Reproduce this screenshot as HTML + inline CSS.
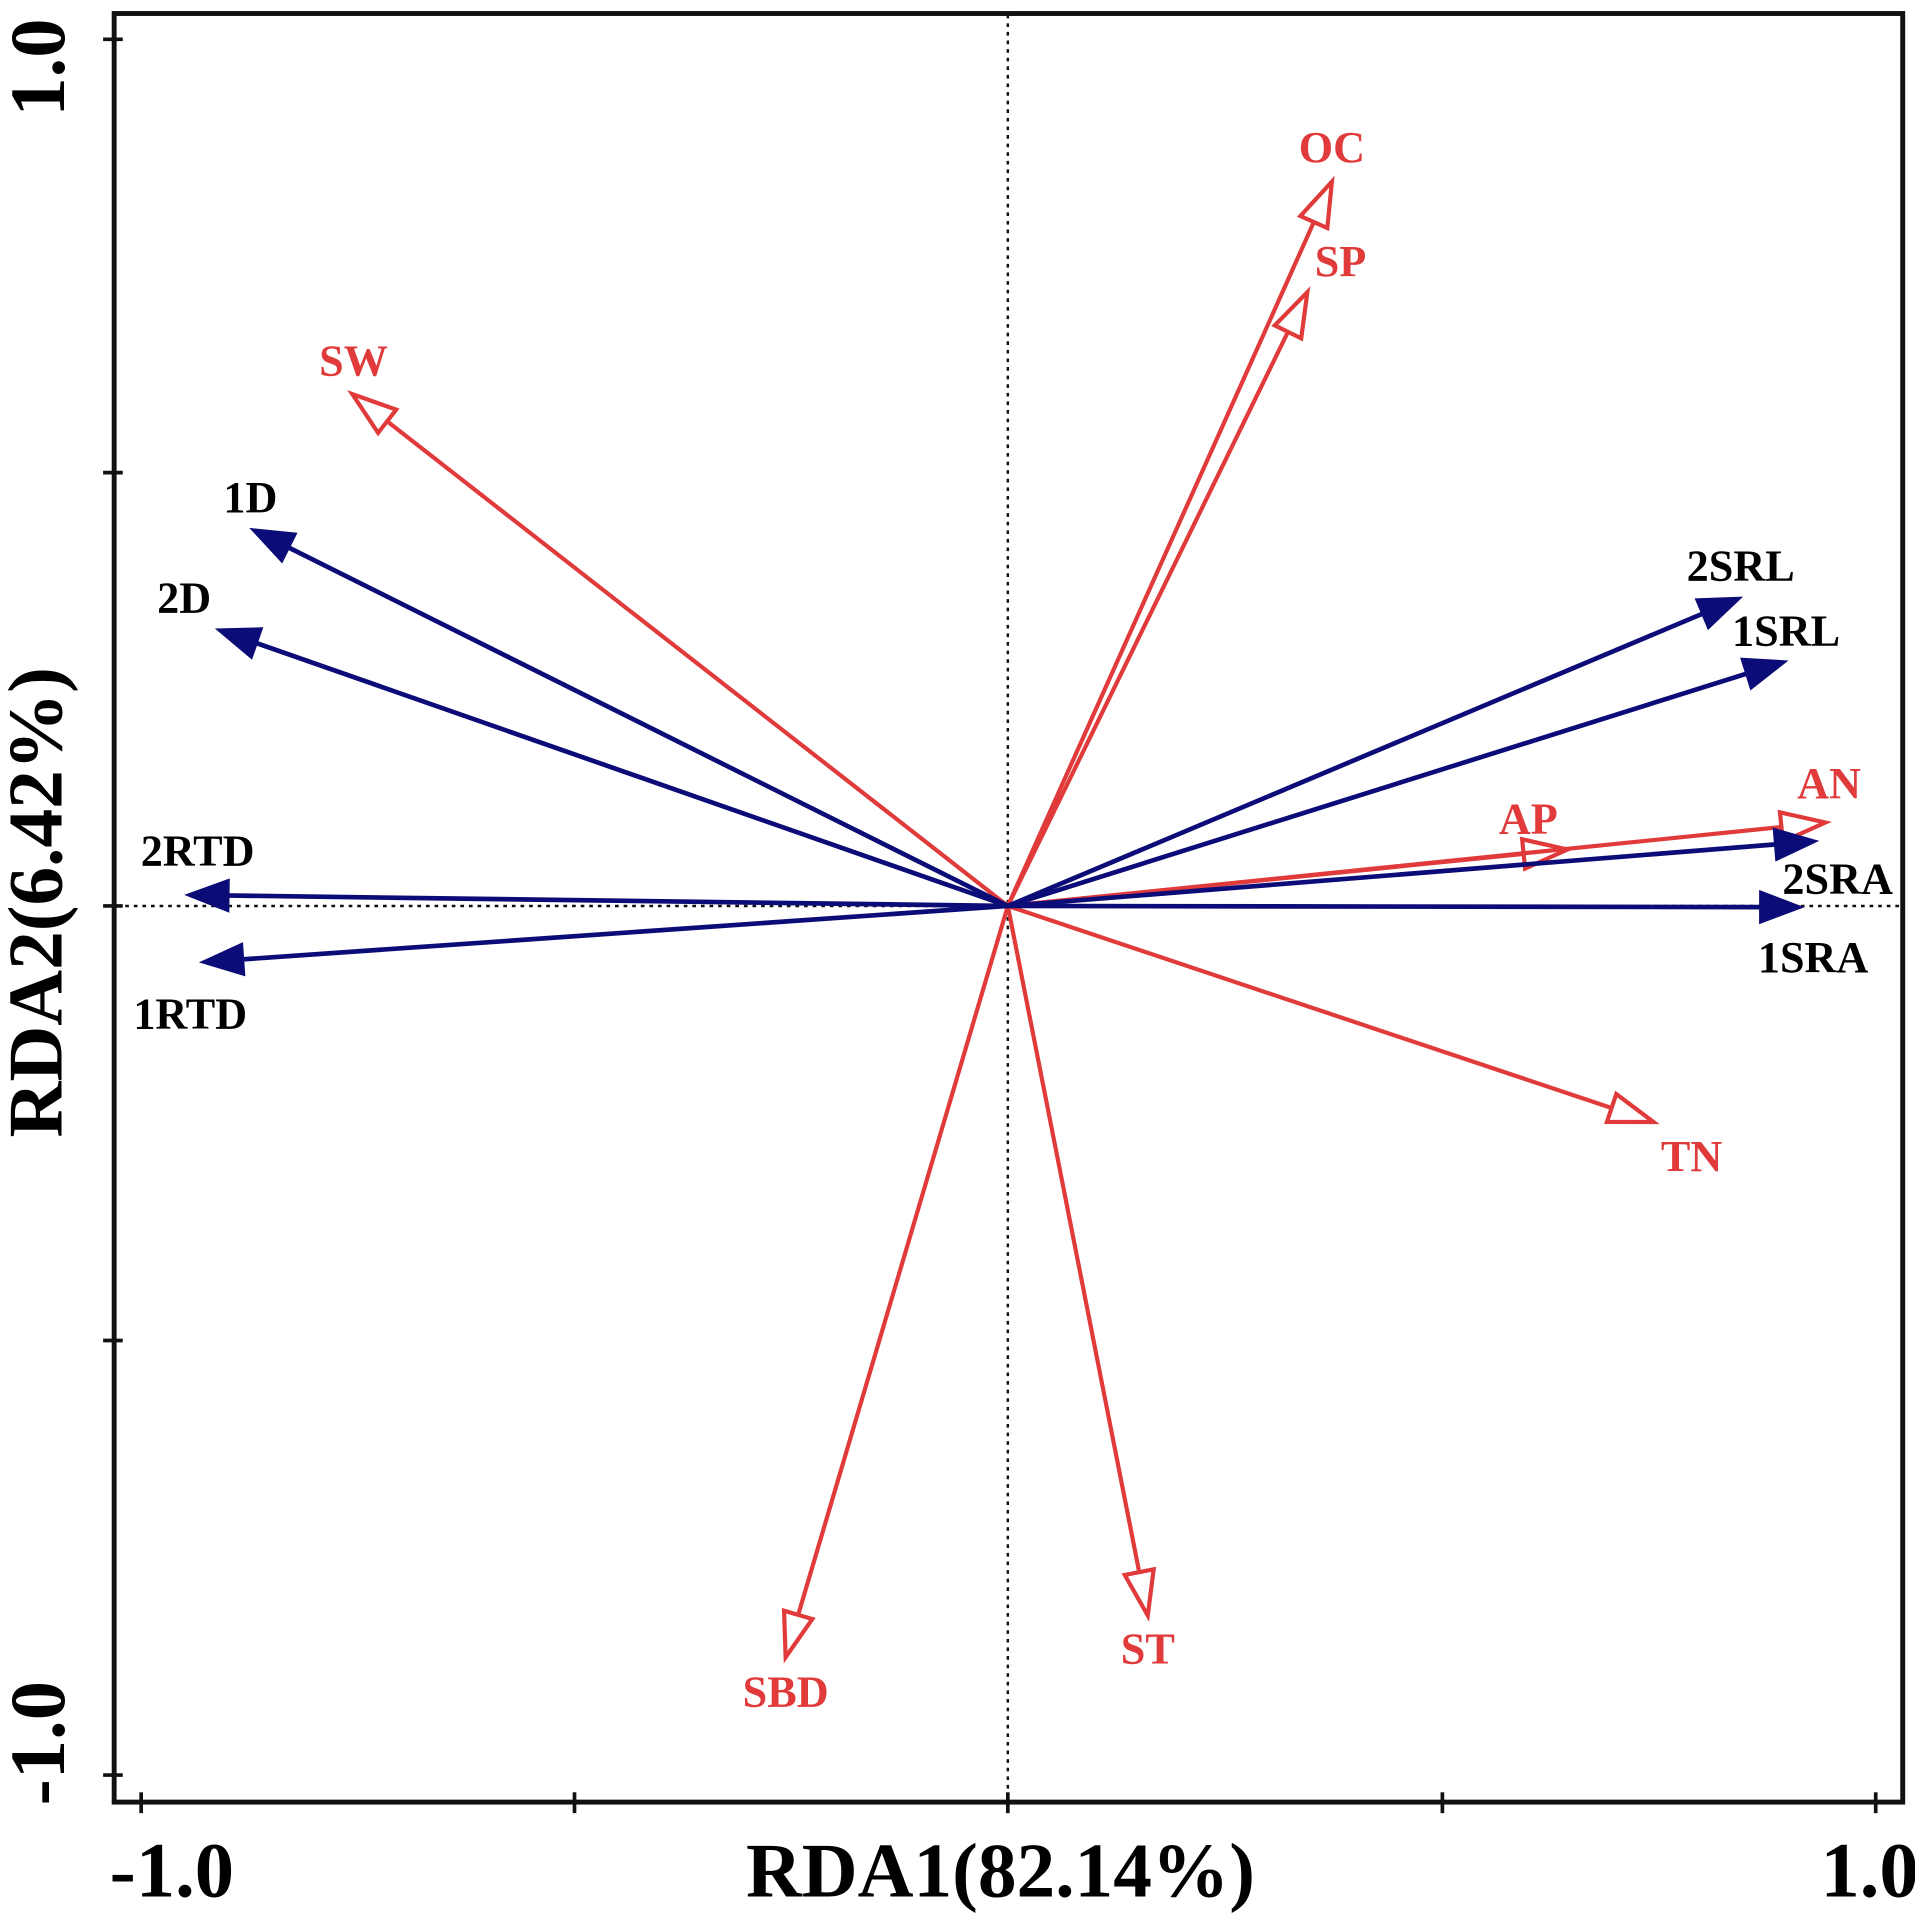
<!DOCTYPE html>
<html><head><meta charset="utf-8"><style>
html,body{margin:0;padding:0;background:#fff;}
svg{display:block;}
text{font-family:"Liberation Serif",serif;font-weight:bold;}
</style></head><body>
<svg id="s" width="1915" height="1924" viewBox="0 0 1560 1567.3" preserveAspectRatio="none" xmlns="http://www.w3.org/2000/svg">
<rect x="0" y="0" width="1560" height="1568" fill="#fff"/>
<line x1="821" y1="12" x2="821" y2="1466" stroke="#111" stroke-width="2" stroke-dasharray="3,4"/>
<line x1="95" y1="738" x2="1548" y2="738" stroke="#111" stroke-width="2" stroke-dasharray="3,4"/>
<rect x="93" y="11" width="1457" height="1457" fill="none" stroke="#111" stroke-width="4"/>
<g stroke="#111" stroke-width="3">
<line x1="115" y1="1460" x2="115" y2="1477"/><line x1="468" y1="1460" x2="468" y2="1477"/>
<line x1="821" y1="1460" x2="821" y2="1477"/><line x1="1175" y1="1460" x2="1175" y2="1477"/>
<line x1="1528" y1="1460" x2="1528" y2="1477"/>
<line x1="84" y1="32" x2="100" y2="32"/><line x1="84" y1="385" x2="100" y2="385"/>
<line x1="84" y1="738" x2="100" y2="738"/><line x1="84" y1="1092" x2="100" y2="1092"/>
<line x1="84" y1="1446" x2="100" y2="1446"/>
</g>
<g id="arrows"></g>
<g font-size="36">
<text x="1085" y="132" text-anchor="middle" fill="#e03a3a">OC</text>
<text x="1092" y="225" text-anchor="middle" fill="#e03a3a">SP</text>
<text x="288" y="306" text-anchor="middle" fill="#e03a3a">SW</text>
<text x="1490" y="650" text-anchor="middle" fill="#e03a3a">AN</text>
<text x="1245" y="679" text-anchor="middle" fill="#e03a3a">AP</text>
<text x="1378" y="954" text-anchor="middle" fill="#e03a3a">TN</text>
<text x="640" y="1390" text-anchor="middle" fill="#e03a3a">SBD</text>
<text x="935" y="1355" text-anchor="middle" fill="#e03a3a">ST</text>
<text x="204" y="417" text-anchor="middle" fill="#000">1D</text>
<text x="150" y="499" text-anchor="middle" fill="#000">2D</text>
<text x="161" y="705" text-anchor="middle" fill="#000">2RTD</text>
<text x="155" y="838" text-anchor="middle" fill="#000">1RTD</text>
<text x="1418" y="473" text-anchor="middle" fill="#000">2SRL</text>
<text x="1455" y="526" text-anchor="middle" fill="#000">1SRL</text>
<text x="1497" y="728" text-anchor="middle" fill="#000">2SRA</text>
<text x="1477" y="792" text-anchor="middle" fill="#000">1SRA</text>
</g>
<g font-size="64" fill="#000">
<text x="815" y="1545" text-anchor="middle" font-size="63">RDA1(82.14%)</text>
<text x="140" y="1545" text-anchor="middle">-1.0</text>
<text x="1523" y="1545" text-anchor="middle">1.0</text>
<text transform="translate(50,735) rotate(-90)" text-anchor="middle" font-size="63">RDA2(6.42%)</text>
<text transform="translate(52,55) rotate(-90)" text-anchor="middle">1.0</text>
<text transform="translate(52,1420) rotate(-90)" text-anchor="middle">-1.0</text>
</g>
</svg>
<script>
var cx=821,cy=738,g=document.getElementById('arrows'),ns='http://www.w3.org/2000/svg';
var blue=[[203,430],[175,512],[150,729],[162,784],[1420,486],[1457,538],[1482,685],[1470,739]];
var red=[[1085,148],[1065,238],[287,321],[1277,692],[1487,670],[1347,914],[640,1350],[935,1316]];
function arrow(t,col,filled){
 var dx=t[0]-cx,dy=t[1]-cy,L=Math.hypot(dx,dy),ux=dx/L,uy=dy/L,hl=filled?37:36,hw=filled?14:12;
 var bx=t[0]-ux*hl,by=t[1]-uy*hl;
 var ln=document.createElementNS(ns,'line');
 ln.setAttribute('x1',cx);ln.setAttribute('y1',cy);
 ln.setAttribute('x2',filled?bx+ux*5:bx);ln.setAttribute('y2',filled?by+uy*5:by);
 ln.setAttribute('stroke',col);ln.setAttribute('stroke-width',filled?3.8:3.4);g.appendChild(ln);
 var p=document.createElementNS(ns,'polygon');
 p.setAttribute('points',t[0]+','+t[1]+' '+(bx-uy*hw)+','+(by+ux*hw)+' '+(bx+uy*hw)+','+(by-ux*hw));
 if(filled){p.setAttribute('fill',col);}else{p.setAttribute('fill','none');p.setAttribute('stroke',col);p.setAttribute('stroke-width',3.4);}
 g.appendChild(p);
}
red.forEach(function(t){arrow(t,'#e03a3a',false);});
blue.forEach(function(t){arrow(t,'#0c0c78',true);});
</script>
</body></html>
